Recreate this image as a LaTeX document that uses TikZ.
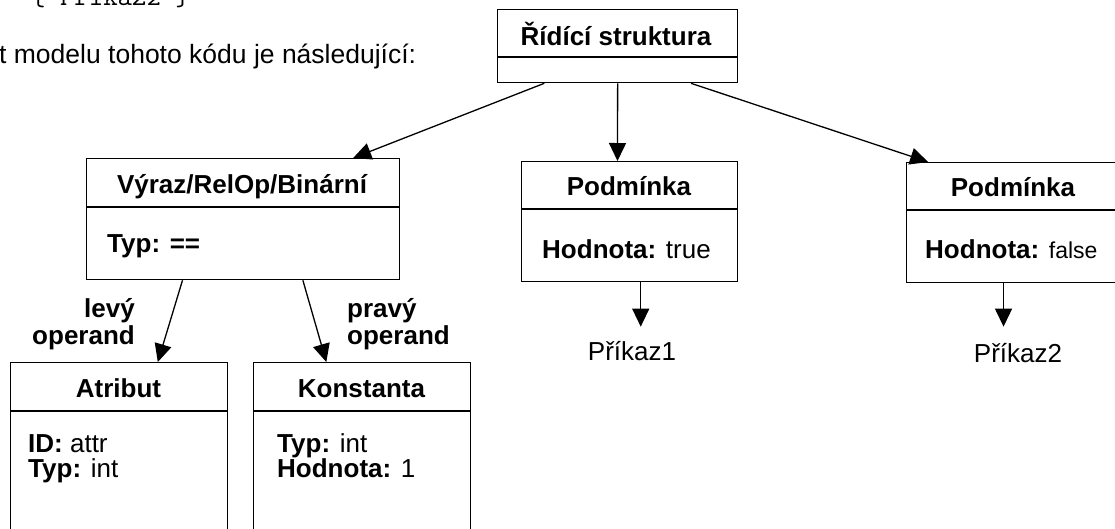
\documentclass[tikz,border=0pt]{standalone}
\usepackage{fontspec}
\setmainfont{Liberation Sans}
\usetikzlibrary{arrows.meta,calc}

\begin{document}
\begin{tikzpicture}[x=1pt,y=-1pt,
  box/.style={draw, line width=1.3pt, rectangle, inner sep=0pt, anchor=north west},
  divider/.style={line width=1.3pt},
  title/.style={font=\fontsize{26}{30}\selectfont\bfseries, anchor=base, inner sep=0pt},
  attr/.style={font=\fontsize{26}{30}\selectfont, anchor=base west, inner sep=0pt},
  lbl/.style={font=\fontsize{26}{30}\selectfont\bfseries, inner sep=0pt},
  plain/.style={font=\fontsize{26}{30}\selectfont, anchor=base, inner sep=0pt},
  arr/.style={line width=1.3pt, -{Triangle[length=18pt,width=17pt]}}]
\useasboundingbox (0,0) rectangle (1115,528);

% surrounding text
\node[font=\fontsize{28}{28}\selectfont\ttfamily, anchor=base west, inner sep=0pt] (code) at (31,5) {\{ Příkaz2 \}};
\node[font=\fontsize{26.5}{30}\selectfont, anchor=base west, inner sep=0pt] (intro) at (-1,63) {t modelu tohoto kódu je následující:};

% control structure
\node[box, minimum width=240pt, minimum height=73pt] (root) at (497,9) {};
\draw[divider] (root.west |- 0,57) -- (root.east |- 0,57);
\node[title] (rootT) at (616,45) {Řídící struktura};

% binary relational expression
\node[box, minimum width=313pt, minimum height=121pt] (expr) at (86,158) {};
\draw[divider] (expr.west |- 0,207) -- (expr.east |- 0,207);
\node[title] (exprT) at (242,193) {Výraz/RelOp/Binární};
\node[attr] (exprA) at (107,252) {\bfseries Typ: ==};

% conditions
\node[box, minimum width=216pt, minimum height=120pt] (cond1) at (521,161) {};
\draw[divider] (cond1.west |- 0,209) -- (cond1.east |- 0,209);
\node[title] (cond1T) at (629,195) {Podmínka};
\node[attr] (cond1A) at (542,258) {\textbf{Hodnota:} true};

\node[box, minimum width=214pt, minimum height=120pt] (cond2) at (906,162) {};
\draw[divider] (cond2.west |- 0,210) -- (cond2.east |- 0,210);
\node[title] (cond2T) at (1013,196) {Podmínka};
\node[attr] (cond2A) at (925,258) {\textbf{Hodnota:} {\fontsize{23}{26}\selectfont false}};

% operands
\node[box, minimum width=217pt, minimum height=200pt] (atr) at (10,362) {};
\draw[divider] (atr.west |- 0,411) -- (atr.east |- 0,411);
\node[title] (atrT) at (118.5,397) {Atribut};
\node[attr] (atrA1) at (28,452) {\textbf{ID:} attr};
\node[attr] (atrA2) at (28,477) {\textbf{Typ:} int};

\node[box, minimum width=217pt, minimum height=200pt] (kon) at (253,362) {};
\draw[divider] (kon.west |- 0,411) -- (kon.east |- 0,411);
\node[title] (konT) at (361.5,397) {Konstanta};
\node[attr] (konA1) at (277,452) {\textbf{Typ:} int};
\node[attr] (konA2) at (277,477) {\textbf{Hodnota:} 1};

% edge labels
\node[lbl, anchor=base east] (lv1) at (135,317) {levý};
\node[lbl, anchor=base east] (lv2) at (135,344) {operand};
\node[lbl, anchor=base west] (pr1) at (347,317) {pravý};
\node[lbl, anchor=base west] (pr2) at (347,344) {operand};

% commands
\node[plain] (cmd1) at (632,360) {Příkaz1};
\node[plain] (cmd2) at (1018,362) {Příkaz2};

% connectors
\draw[arr] ($(root.south west)!0.196!(root.south east)$) -- ($(expr.north west)!0.85!(expr.north east)$);
\draw[arr] (root.south) -- ($(cond1.north west)!0.444!(cond1.north east)$);
\draw[arr] ($(root.south west)!0.804!(root.south east)$) -- ($(cond2.north west)!0.103!(cond2.north east)$);
\draw[arr] ($(expr.south west)!0.307!(expr.south east)$) -- ($(atr.north west)!0.677!(atr.north east)$);
\draw[arr] ($(expr.south west)!0.69!(expr.south east)$) -- ($(kon.north west)!0.336!(kon.north east)$);
\coordinate (c1) at ($(cond1.south west)!0.551!(cond1.south east)$);
\coordinate (c2) at ($(cond2.south west)!0.453!(cond2.south east)$);
\draw[arr] (c1) -- ($(c1 |- cmd1.north)+(0,-14)$);
\draw[arr] (c2) -- ($(c2 |- cmd2.north)+(0,-16)$);
\end{tikzpicture}
\end{document}
